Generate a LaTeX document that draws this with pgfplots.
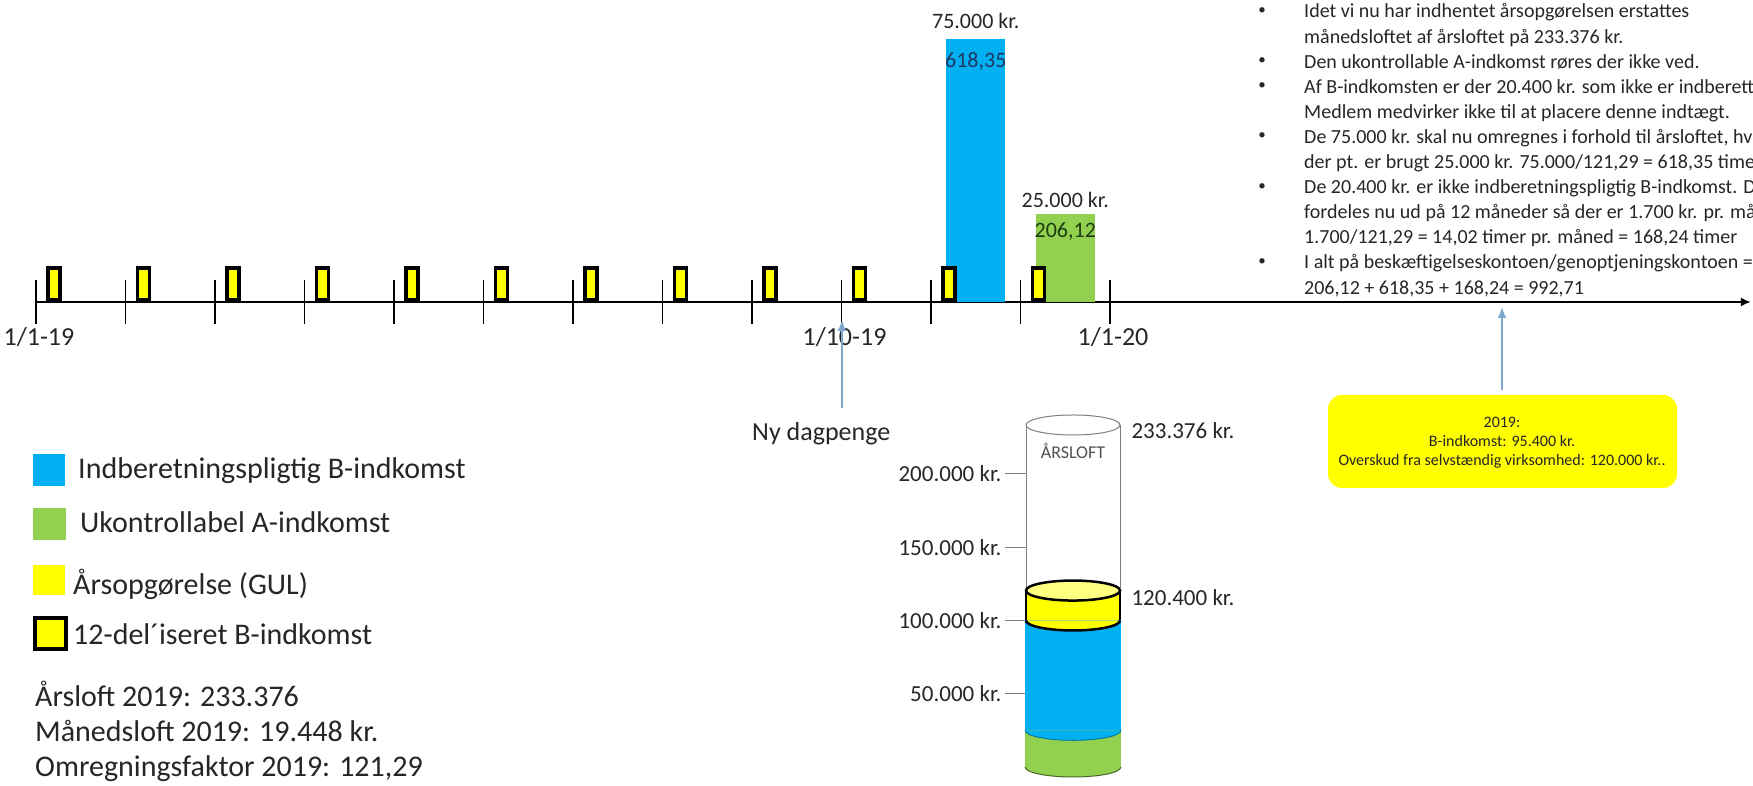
\documentclass[border=0pt]{standalone}
\usepackage{fontspec}
\setmainfont{Carlito}
\usepackage{pgfplots}
\pgfplotsset{compat=1.18}
\usetikzlibrary{arrows.meta}
\definecolor{cblue}{HTML}{00B0F0}
\definecolor{cgreen}{HTML}{92D050}
\definecolor{cyel}{HTML}{FFFF00}
\definecolor{cyellt}{HTML}{FFFF80}
\definecolor{carrow}{HTML}{7EA6CC}
\definecolor{ctext}{HTML}{262626}
\definecolor{cgray}{HTML}{7F7F7F}
\definecolor{cdblue}{HTML}{1F3864}
\definecolor{cdgreen}{HTML}{1E3B12}
\newcommand{\fs}[1]{\fontsize{#1bp}{#1bp}\selectfont}
\pgfdeclareplotmark{ybox}{%
  \pgfpathrectangle{\pgfpoint{-6bp}{2bp}}{\pgfpoint{12bp}{32bp}}%
  \pgfusepathqfillstroke}
\pgfdeclareplotmark{lowhalf}{%
  \pgfpathmoveto{\pgfpoint{-48bp}{0bp}}%
  \pgfpatharc{180}{360}{48bp and 10bp}%
  \pgfusepathqfillstroke}
\pgfdeclareplotmark{lowhalfy}{%
  \pgfpathmoveto{\pgfpoint{-47bp}{0bp}}%
  \pgfpatharc{180}{360}{47bp and 10bp}%
  \pgfusepathqfillstroke}
\pgfdeclareplotmark{fullell}{%
  \pgfpathellipse{\pgfpointorigin}{\pgfpoint{47bp}{0bp}}{\pgfpoint{0bp}{10bp}}%
  \pgfusepathqfillstroke}
\newcommand{\bline}[2]{\node[anchor=base west, font=\fs{20}, text=ctext, inner sep=0pt] at (1304,{786-#1-7}) {#2};}
\newcommand{\bdot}[1]{\node[anchor=center, font=\fs{15}, text=ctext, inner sep=0pt] at (1262,{786-#1}) {•};}
\begin{document}
\begin{tikzpicture}[x=1bp,y=1bp]
\useasboundingbox (0,0) rectangle (1753,786);
\clip (0,0) rectangle (1753,786);

% ---------- timeline ----------
\begin{axis}[
  at={(36bp,484bp)}, anchor=south west,
  x=89.5bp, y=3.5067bp,
  xmin=0, xmax=19.16, ymin=0, ymax=80,
  enlargelimits=false, clip=false,
  axis x line=bottom, axis y line=none,
  x axis line style={line width=1.8bp, -{Latex[length=10bp,width=9bp]}},
  xtick={0,...,12},
  xticklabels={1/1-19,,,,,,,,,1/10-19,,,1/1-20},
  major tick length=44bp, tick align=center,
  xtick style={black, line width=1.2bp},
  xticklabel style={font=\fs{26}, text=ctext, xshift=3bp},
]
\addplot[ybar, bar width=59bp, bar shift=0pt, fill=cblue, draw=none] coordinates {(10.5,75)};
\addplot[ybar, bar width=59bp, bar shift=0pt, fill=cgreen, draw=none] coordinates {(11.5,25)};
\addplot[only marks, mark=ybox, mark options={fill=cyel, draw=black, line width=3.5bp}]
  coordinates {(0.2,0) (1.2,0) (2.2,0) (3.2,0) (4.2,0) (5.2,0) (6.2,0) (7.2,0) (8.2,0) (9.2,0) (10.2,0) (11.2,0)};
\node[font=\fs{22}, text=ctext, anchor=base] at (axis cs:10.5,75) [yshift=10bp] {75.000 kr.};
\node[font=\fs{22}, text=cdblue, anchor=base] at (axis cs:10.5,75) [yshift=-29bp] {618,35};
\node[font=\fs{22}, text=ctext, anchor=base] at (axis cs:11.5,25) [yshift=7bp] {25.000 kr.};
\node[font=\fs{22}, text=cdgreen, anchor=base] at (axis cs:11.5,25) [yshift=-23bp] {206,12};
\end{axis}

% ---------- cylinder ----------
\begin{axis}[
  at={(1073bp,19bp)}, anchor=south,
  width=94bp, height=342bp, scale only axis,
  xmin=-0.5, xmax=0.5, ymin=0, ymax=233376,
  enlargelimits=false, clip=false,
  axis x line=none, axis y line*=left,
  y axis line style={draw=none},
  ytick={50000,100000,150000,200000},
  yticklabels={50.000 kr.,100.000 kr.,150.000 kr.,200.000 kr.},
  scaled y ticks=false,
  tick align=outside, major tick length=21bp,
  ytick style={cgray, line width=1bp},
  yticklabel style={font=\fs{23}, text=ctext},
]
% cumulative levels: Aarsopgoerelse top 120400, B-indkomst top 100000, A-indkomst top 25000
\addplot[ybar, bar shift=0pt, bar width=94bp, fill=cyel, draw=black, line width=2.5bp] coordinates {(0,120400)};
\addplot[ybar, bar shift=0pt, bar width=96.5bp, fill=cblue, draw=none] coordinates {(0,100000)};
\addplot[ybar, bar shift=0pt, bar width=96.5bp, fill=cgreen, draw=none] coordinates {(0,25000)};
\addplot[only marks, mark=lowhalf, mark options={fill=cgreen, draw=cgreen!50!black, line width=1bp}] coordinates {(0,0)};
\addplot[only marks, mark=lowhalf, mark options={fill=cblue, draw=cblue!65!black, line width=0.8bp}] coordinates {(0,25000)};
\addplot[only marks, mark=lowhalfy, mark options={fill=cyel, draw=black, line width=2.5bp}] coordinates {(0,100000)};
\addplot[only marks, mark=fullell, mark options={fill=cyellt, draw=black, line width=2.5bp}] coordinates {(0,120400)};
\draw[cgray, line width=1bp] (axis cs:-0.5,122000) -- (axis cs:-0.5,233376);
\draw[cgray, line width=1bp] (axis cs:0.5,122000) -- (axis cs:0.5,233376);
\addplot[only marks, mark=fullell, mark options={fill=white, draw=cgray, line width=1bp}] coordinates {(0,233376)};
\node[font=\fs{18}, text=ctext!80, anchor=base] at (axis cs:0,233376) [yshift=-34bp] {ÅRSLOFT};
\node[font=\fs{23}, text=ctext, anchor=base west] at (axis cs:0.5,233376) [xshift=8bp, yshift=-14bp] {233.376 kr.};
\node[font=\fs{23}, text=ctext, anchor=base west] at (axis cs:0.5,120400) [xshift=8bp, yshift=-15bp] {120.400 kr.};
\end{axis}

% ---------- arrows and notes ----------
\draw[carrow, line width=2bp, -{Latex[length=11bp,width=9bp]}] (842,{786-408}) -- (842,{786-320});
\draw[carrow, line width=2bp, -{Latex[length=11bp,width=9bp]}] (1502,{786-390}) -- (1502,{786-307});
\node[anchor=base west, font=\fs{26}, text=ctext, inner sep=0pt] at (752,{786-441}) {Ny dagpenge};

\fill[cyel, rounded corners=14bp] (1328,{786-395}) rectangle (1677,{786-488});
\node[anchor=base, font=\fs{16}, text=ctext, inner sep=0pt] at (1502,{786-428}) {2019:};
\node[anchor=base, font=\fs{16}, text=ctext, inner sep=0pt] at (1502,{786-447}) {B-indkomst: 95.400 kr.};
\node[anchor=base, font=\fs{16}, text=ctext, inner sep=0pt] at (1502,{786-466}) {Overskud fra selvstændig virksomhed: 120.000 kr..};

% bullets
\bdot{11}\bline{11}{Idet vi nu har indhentet årsopgørelsen erstattes}
\bline{36.1}{månedsloftet af årsloftet på 233.376 kr.}
\bdot{61.2}\bline{61.2}{Den ukontrollable A-indkomst røres der ikke ved.}
\bdot{86.3}\bline{86.3}{Af B-indkomsten er der 20.400 kr. som ikke er indberett}
\bline{111.4}{Medlem medvirker ikke til at placere denne indtægt.}
\bdot{136.5}\bline{136.5}{De 75.000 kr. skal nu omregnes i forhold til årsloftet, hv}
\bline{161.6}{der pt. er brugt 25.000 kr. 75.000/121,29 = 618,35 time}
\bdot{186.7}\bline{186.7}{De 20.400 kr. er ikke indberetningspligtig B-indkomst. D}
\bline{211.8}{fordeles nu ud på 12 måneder så der er 1.700 kr. pr. må}
\bline{236.9}{1.700/121,29 = 14,02 timer pr. måned = 168,24 timer}
\bdot{262}\bline{262}{I alt på beskæftigelseskontoen/genoptjeningskontoen =}
\bline{287.1}{206,12 + 618,35 + 168,24 = 992,71}

% legend
\fill[cblue] (33,{786-454}) rectangle (65,{786-486});
\fill[cgreen] (33,{786-508}) rectangle (66,{786-540});
\fill[cyel] (33,{786-565}) rectangle (65,{786-595});
\filldraw[fill=cyel, draw=black, line width=4bp] (35,{786-618}) rectangle (66,{786-649});
\node[anchor=base west, font=\fs{30}, text=ctext, inner sep=0pt] at (78,{786-479}) {Indberetningspligtig B-indkomst};
\node[anchor=base west, font=\fs{30}, text=ctext, inner sep=0pt] at (80,{786-533}) {Ukontrollabel A-indkomst};
\node[anchor=base west, font=\fs{30}, text=ctext, inner sep=0pt] at (73,{786-595}) {Årsopgørelse (GUL)};
\node[anchor=base west, font=\fs{30}, text=ctext, inner sep=0pt] at (73,{786-645}) {12-del´iseret B-indkomst};
\node[anchor=base west, font=\fs{30}, text=ctext, inner sep=0pt] at (35,{786-707}) {Årsloft 2019: 233.376};
\node[anchor=base west, font=\fs{30}, text=ctext, inner sep=0pt] at (35,{786-742}) {Månedsloft 2019: 19.448 kr.};
\node[anchor=base west, font=\fs{30}, text=ctext, inner sep=0pt] at (35,{786-777}) {Omregningsfaktor 2019: 121,29};
\end{tikzpicture}
\end{document}
